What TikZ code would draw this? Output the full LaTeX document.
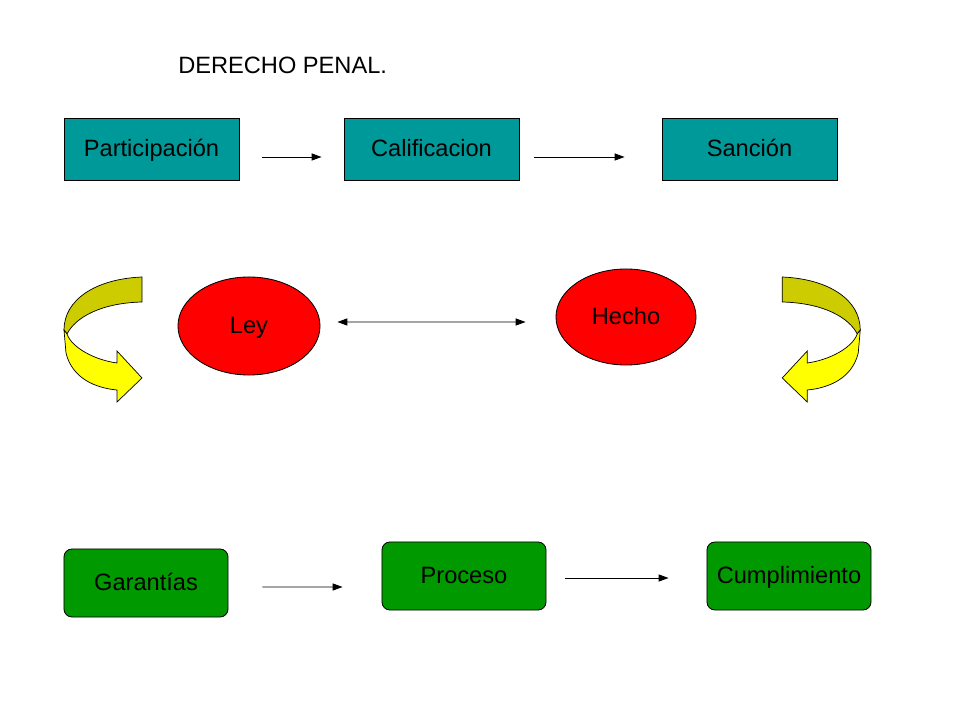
\documentclass[tikz,border=0pt]{standalone}
\usepackage{fontspec}
\setmainfont{Liberation Sans}
\usetikzlibrary{positioning, arrows.meta, shapes.geometric}

\definecolor{boxteal}{HTML}{009999}
\definecolor{boxgreen}{HTML}{009900}
\definecolor{curlyellow}{HTML}{FFFF00}
\definecolor{curlolive}{HTML}{CCCC00}

% curved arrow, drawn once for the left side
\newcommand{\yellowcurl}{%
    \filldraw[curlback] (142,277) .. controls (95,279) and (64,300) .. (64,330)
        -- (67,334) .. controls (75,318) and (100,303) .. (142,302) -- cycle;
    \filldraw[curlfront] (64,330) -- (66,353) .. controls (72,378) and (95,388) .. (117,390)
        -- (117,402) -- (142,378) -- (117,351) -- (117,363)
        .. controls (95,360) and (72,348) .. (67,334) -- cycle;
}

\begin{document}
\begin{tikzpicture}[
    x=0.025cm, y=-0.025cm,
    font=\fontsize{16.8}{19}\selectfont,
    captext/.style={text height=1.02em, text depth=0pt},
    topbox/.style={rectangle, draw, line width=0.6pt, fill=boxteal, minimum width=4.375cm, minimum height=1.55cm, inner sep=0pt, captext},
    roundbox/.style={rectangle, rounded corners=0.2cm, draw, line width=0.6pt, fill=boxgreen, minimum width=4.1cm, minimum height=1.7cm, inner sep=0pt, captext},
    oval/.style={ellipse, draw, line width=0.6pt, fill=red, minimum width=3.55cm, minimum height=2.45cm, inner sep=0pt, captext},
    arrow/.style={-{Triangle[length=7pt, width=5pt]}, line width=0.6pt},
    twoarrow/.style={{Triangle[length=7pt, width=5pt]}-{Triangle[length=7pt, width=5pt]}, line width=0.6pt},
    curlback/.style={fill=curlolive, draw=black, line width=0.5pt},
    curlfront/.style={fill=curlyellow, draw=black, line width=0.5pt}
]
\useasboundingbox (0,0) rectangle (960,720);

% Title
\node[anchor=west, inner sep=0pt] (title) at (178,65) {DERECHO PENAL.};

% Top row
\node[topbox] (part) at (151.5,149) {Participación};
\node[topbox] (calif) at (431.5,149) {Calificacion};
\node[topbox] (sancion) at (749.5,149) {Sanción};

% Middle row
\node[oval] (ley) at (249,326) {Ley};
\node[oval, minimum width=3.5cm, minimum height=2.4cm] (hecho) at (626,317) {Hecho};

% Curved arrows
\begin{scope}
    \yellowcurl
\end{scope}
\begin{scope}[xshift=23.1cm, xscale=-1]
    \yellowcurl
\end{scope}

% Bottom row
\node[roundbox] (garant) at (146,583) {Garantías};
\node[roundbox] (proceso) at (464,576) {Proceso};
\node[roundbox] (cumpl) at (789,576) {Cumplimiento};

% Arrows - top row
\draw[arrow, shorten <=0.575cm, shorten >=0.55cm] ([yshift=-0.2cm]part.east) -- ([yshift=-0.2cm]calif.west);
\draw[arrow, shorten <=0.375cm, shorten >=0.925cm] ([yshift=-0.2cm]calif.east) -- ([yshift=-0.2cm]sancion.west);

% Ley - Hecho
\draw[twoarrow, shorten <=0.425cm, shorten >=0.75cm] ([yshift=0.1cm]ley.east) -- ([yshift=-0.125cm]hecho.west);

% Arrows - bottom row
\draw[arrow, shorten <=0.85cm, shorten >=0.975cm] ([yshift=-0.1cm]garant.east) -- ([yshift=-0.275cm]proceso.west);
\draw[arrow, shorten <=0.475cm, shorten >=0.95cm] ([yshift=-0.05cm]proceso.east) -- ([yshift=-0.05cm]cumpl.west);

\end{tikzpicture}
\end{document}
